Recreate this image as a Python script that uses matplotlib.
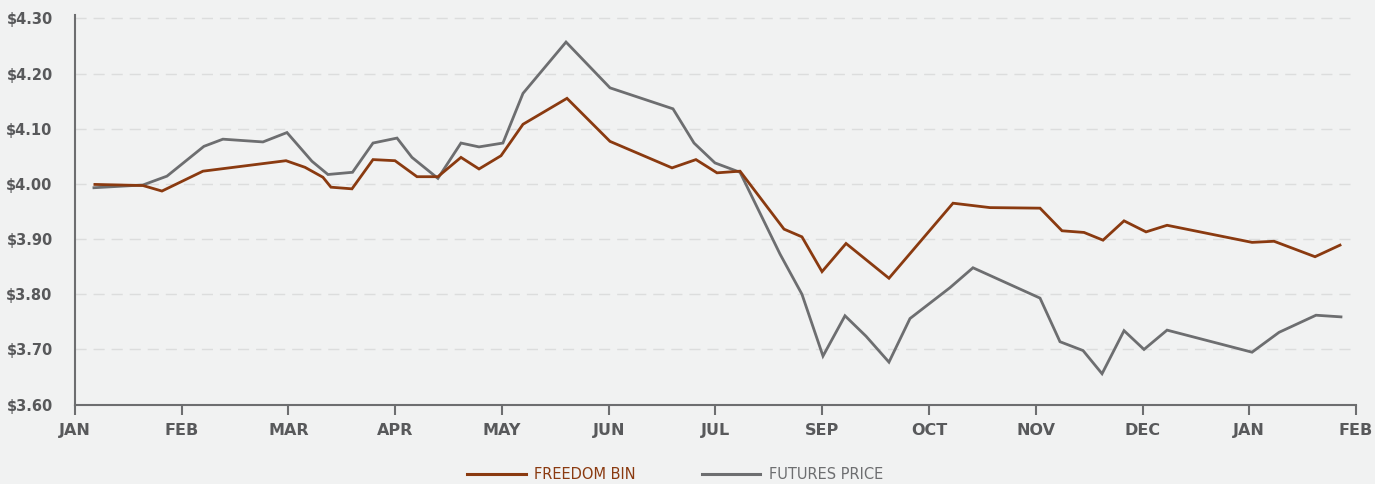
import matplotlib
matplotlib.use("Agg")
import matplotlib.pyplot as plt
from matplotlib.lines import Line2D

# ---- data ----
month_labels = ["JAN", "FEB", "MAR", "APR", "MAY", "JUN", "JUL",
                "SEP", "OCT", "NOV", "DEC", "JAN", "FEB"]

freedom_x = [0.187, 0.637, 0.815, 1.199, 1.977, 2.155, 2.323, 2.398, 2.595,
             2.792, 2.998, 3.204, 3.400, 3.616, 3.785, 3.991, 4.197, 4.609,
             5.012, 5.593, 5.817, 6.014, 6.230, 6.642, 6.810, 6.998, 7.223,
             7.625, 8.225, 8.571, 9.040, 9.246, 9.452, 9.630, 9.827, 10.033,
             10.230, 11.026, 11.232, 11.616, 11.850]
freedom_y = [3.999, 3.997, 3.987, 4.023, 4.042, 4.030, 4.012, 3.994, 3.991,
             4.044, 4.042, 4.013, 4.013, 4.048, 4.027, 4.051, 4.108, 4.155,
             4.077, 4.029, 4.044, 4.020, 4.023, 3.918, 3.904, 3.841, 3.892,
             3.829, 3.965, 3.957, 3.956, 3.915, 3.912, 3.898, 3.933, 3.913,
             3.925, 3.894, 3.896, 3.868, 3.889]

futures_x = [0.178, 0.637, 0.862, 1.208, 1.386, 1.761, 1.986, 2.220, 2.370,
             2.600, 2.792, 3.017, 3.157, 3.400, 3.616, 3.785, 4.009, 4.197,
             4.600, 5.012, 5.602, 5.799, 5.995, 6.230, 6.604, 6.810, 7.007,
             7.213, 7.410, 7.625, 7.822, 8.197, 8.412, 9.040, 9.227, 9.443,
             9.621, 9.827, 10.014, 10.230, 11.026, 11.279, 11.625, 11.859]
futures_y = [3.993, 3.998, 4.014, 4.068, 4.081, 4.076, 4.093, 4.041, 4.017,
             4.021, 4.074, 4.083, 4.048, 4.010, 4.074, 4.067, 4.074, 4.164,
             4.257, 4.174, 4.136, 4.074, 4.038, 4.021, 3.873, 3.800, 3.688,
             3.761, 3.724, 3.677, 3.756, 3.812, 3.848, 3.793, 3.714, 3.698,
             3.656, 3.734, 3.700, 3.735, 3.695, 3.731, 3.762, 3.759]

y_ticks = [3.60, 3.70, 3.80, 3.90, 4.00, 4.10, 4.20, 4.30]

# ---- style ----
BG = "#f1f2f2"
RED = "#8a3a10"
GRAY = "#6d6e70"
TXT = "#58595b"

plt.rcParams["font.family"] = ["DejaVu Sans"]

fig = plt.figure(figsize=(13.75, 4.84), dpi=100, facecolor=BG)
ax = fig.add_axes([0.0545, 0.164, 0.9317, 0.805])
ax.set_facecolor(BG)

ax.plot(futures_x, futures_y, color=GRAY, lw=2.0, solid_joinstyle="miter", zorder=3)
ax.plot(freedom_x, freedom_y, color=RED, lw=2.0, solid_joinstyle="miter", zorder=4)

ax.set_xlim(0, 12)
ax.set_ylim(3.60, 4.306)
ax.set_xticks(range(len(month_labels)))
ax.set_xticklabels(month_labels)
ax.set_yticks(y_ticks)
ax.set_yticklabels([f"${v:.2f}" for v in y_ticks])

for lab in ax.get_xticklabels():
    lab.set_fontweight("bold")
    lab.set_color(TXT)
    lab.set_fontsize(11.5)
for lab in ax.get_yticklabels():
    lab.set_fontweight("bold")
    lab.set_color(TXT)
    lab.set_fontsize(10.5)

ax.tick_params(axis="x", length=7, width=1.5, color=GRAY, pad=6)
ax.tick_params(axis="y", length=0, pad=16)

for s in ["top", "right"]:
    ax.spines[s].set_visible(False)
for s in ["left", "bottom"]:
    ax.spines[s].set_color(GRAY)
    ax.spines[s].set_linewidth(1.5)

ax.yaxis.grid(True, color="#dcdddd", lw=1.0, linestyle=(0, (8, 5)), zorder=0)
ax.set_axisbelow(True)

handles = [Line2D([], [], color=RED, lw=2.2), Line2D([], [], color=GRAY, lw=2.2)]
leg = fig.legend(handles, ["FREEDOM BIN", "FUTURES PRICE"], loc="center",
                 bbox_to_anchor=(0.491, 0.019), ncol=2, frameon=False,
                 fontsize=10.5, handlelength=4.0, handletextpad=0.6,
                 columnspacing=4.5, labelcolor=[RED, GRAY],
                 borderpad=0, borderaxespad=0)

fig.savefig("out.png", dpi=100, facecolor=BG)
